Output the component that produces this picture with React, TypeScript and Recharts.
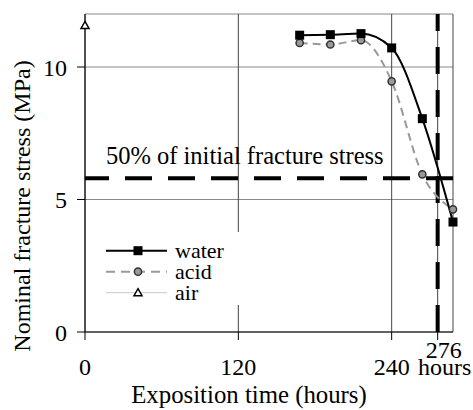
import React from "react";
import {
  LineChart,
  Line,
  XAxis,
  YAxis,
  CartesianGrid,
  ReferenceLine,
  Legend,
} from "recharts";

// data
const hours = [0, 168, 192, 216, 240, 264, 288];
const waterStress = [null, 11.2, 11.22, 11.26, 10.72, 8.05, 4.15];
const acidStress = [null, 10.91, 10.85, 11.01, 9.46, 5.95, 4.63];
const airStress = [11.57, null, null, null, null, null, null];

const xTicks = [0, 120, 240, 276];
const yTicks = [0, 5, 10];
const halfStress = 5.8; // 50% of initial fracture stress
const failureHour = 276;

const FONT = "Liberation Serif";

const data = hours.map((h, i) => ({
  hours: h,
  water: waterStress[i],
  acid: acidStress[i],
  air: airStress[i],
}));

// little marker shapes, used both on the chart and in the legend
const Square = ({ cx, cy }: { cx: number; cy: number }) => (
  <rect x={cx - 4.5} y={cy - 4.5} width={9} height={9} fill="#000" />
);
const Circle = ({ cx, cy }: { cx: number; cy: number }) => (
  <circle cx={cx} cy={cy} r={3.6} fill="#999" stroke="#333" strokeWidth={1.5} />
);
const Triangle = ({ cx, cy }: { cx: number; cy: number }) => (
  <path
    d={`M${cx},${cy - 4} L${cx + 4},${cy + 3} L${cx - 4},${cy + 3} Z`}
    fill="#fff"
    stroke="#000"
    strokeWidth={1.5}
  />
);

const dotOf = (Shape: any) => (p: any) => {
  if (p.cy == null || p.value == null) return <g key={p.index} />;
  return <Shape key={p.index} cx={p.cx} cy={p.cy} />;
};

const legendRows = [
  { key: "water", label: "water", stroke: "#000", width: 2, dash: undefined, Shape: Square },
  { key: "acid", label: "acid", stroke: "#999", width: 2, dash: "9 6", Shape: Circle },
  { key: "air", label: "air", stroke: "#c8c8c8", width: 1, dash: undefined, Shape: Triangle },
];

const LegendBox = () => (
  <svg width={145} height={73} style={{ display: "block" }}>
    {legendRows.map((r, i) => {
      const y = 18.7 + i * 21;
      return (
        <g key={r.key}>
          <line x1={6} x2={67} y1={y} y2={y} stroke={r.stroke} strokeWidth={r.width} strokeDasharray={r.dash} />
          <r.Shape cx={38} cy={y} />
          <text x={75} y={y + 7} fontSize={22} fill="#000" fontFamily={FONT}>
            {r.label}
          </text>
        </g>
      );
    })}
  </svg>
);

const XTick = (props: any) => {
  const { x, y, payload } = props;
  if (payload.value === failureHour) {
    return (
      <g fontFamily={FONT} fontSize={24} fill="#000">
        <text x={x + 6} y={y - 17} dy="0.71em" textAnchor="middle">
          {payload.value}
        </text>
        <text x={x + 7} y={y} dy="0.71em" textAnchor="middle">
          hours
        </text>
      </g>
    );
  }
  return (
    <text x={x} y={y} dy="0.71em" textAnchor="middle" fontSize={24} fill="#000" fontFamily={FONT}>
      {payload.value}
    </text>
  );
};

const App = () => {
  return (
    <div style={{ position: "absolute", left: 0, top: 0, fontFamily: FONT }}>
      <LineChart
        width={473}
        height={410}
        data={data}
        margin={{ top: 14, right: 20, bottom: 0, left: 0 }}
        style={{ fontFamily: FONT }}
      >
        <CartesianGrid horizontal={true} vertical={false} stroke="#888" />
        <CartesianGrid horizontal={false} vertical={true} stroke="#444" />
        <XAxis
          dataKey="hours"
          type="number"
          domain={[0, 288]}
          ticks={xTicks}
          height={78}
          tickSize={8}
          tickMargin={18}
          stroke="#000"
          tick={<XTick />}
          label={{
            content: (p: any) => (
              <text
                x={p.viewBox.x + p.viewBox.width / 2 - 20}
                y={403}
                textAnchor="middle"
                fontSize={24.8}
                fill="#000"
                fontFamily={FONT}
              >
                Exposition time (hours)
              </text>
            ),
          }}
        />
        <YAxis
          type="number"
          domain={[0, 12]}
          ticks={yTicks}
          width={85}
          tickSize={8}
          tickMargin={10}
          stroke="#000"
          tick={{ fill: "#000", fontSize: 24, fontFamily: FONT }}
          label={{
            content: (p: any) => {
              const cy = p.viewBox.y + p.viewBox.height / 2 + 33;
              return (
                <text
                  x={30}
                  y={cy}
                  transform={`rotate(-90, 30, ${cy})`}
                  textAnchor="middle"
                  fontSize={24}
                  fill="#000"
                  fontFamily={FONT}
                >
                  Nominal fracture stress (MPa)
                </text>
              );
            },
          }}
        />
        <ReferenceLine
          y={halfStress}
          stroke="#000"
          strokeWidth={4}
          strokeDasharray="27 16"
          strokeDashoffset={3}
          label={{
            content: (p: any) => (
              <text
                x={p.viewBox.x + 21}
                y={p.viewBox.y - 14}
                fontSize={24.5}
                fill="#000"
                fontFamily={FONT}
              >
                50% of initial fracture stress
              </text>
            ),
          }}
        />
        <ReferenceLine
          x={failureHour}
          stroke="#000"
          strokeWidth={4}
          strokeDasharray="27 16"
          ifOverflow="visible"
        />
        <Line
          type="monotone"
          dataKey="air"
          stroke="#c8c8c8"
          strokeWidth={1}
          dot={dotOf(Triangle)}
          isAnimationActive={false}
          name="air"
        />
        <Line
          type="monotone"
          dataKey="acid"
          stroke="#999"
          strokeWidth={2}
          strokeDasharray="8 5"
          dot={dotOf(Circle)}
          isAnimationActive={false}
          name="acid"
        />
        <Line
          type="monotone"
          dataKey="water"
          stroke="#000"
          strokeWidth={2}
          dot={dotOf(Square)}
          isAnimationActive={false}
          name="water"
        />
        <Legend
          layout="vertical"
          align="center"
          verticalAlign="middle"
          content={() => <LegendBox />}
          wrapperStyle={{
            position: "absolute",
            left: 100,
            top: 232,
            width: 145,
            height: 73,
            background: "#fff",
          }}
        />
      </LineChart>
    </div>
  );
};

export default App;
